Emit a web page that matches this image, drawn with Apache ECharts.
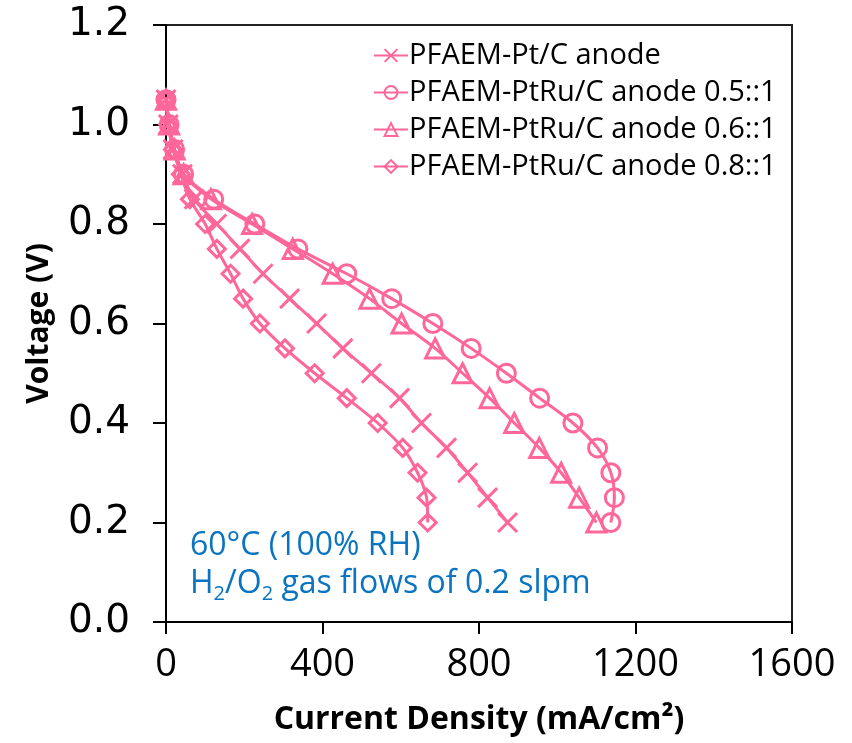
<!DOCTYPE html>
<html>
<head>
<meta charset="utf-8">
<script src="https://cdn.jsdelivr.net/npm/echarts@6/dist/echarts.min.js"></script>
<style>
html,body{margin:0;padding:0;background:#fff;}
#chart{width:852px;height:743px;}
</style>
</head>
<body>
<div id="chart"></div>
<script>
// Voltage levels (V) shared by all series
const voltage = [1.05, 1.0, 0.95, 0.9, 0.85, 0.8, 0.75, 0.7, 0.65, 0.6, 0.55, 0.5, 0.45, 0.4, 0.35, 0.3, 0.25, 0.2];
// Current density (mA/cm2) for each series
const currPtC    = [0, 6, 18, 42, 72, 130, 189, 248, 316, 385, 452, 525, 597, 653, 717, 771, 822, 873];
const currPtRu05 = [0, 8, 22, 45, 122, 227, 337, 462, 577, 682, 780, 870, 955, 1040, 1103, 1137, 1146, 1137];
const currPtRu06 = [0, 8, 22, 45, 115, 220, 324, 426, 520, 602, 688, 758, 827, 890, 954, 1010, 1056, 1100];
const currPtRu08 = [0, 6, 18, 38, 61, 100, 130, 165, 197, 240, 304, 380, 462, 541, 605, 643, 666, 669];
const seriesNames = ['PFAEM-Pt/C anode', 'PFAEM-PtRu/C anode 0.5::1', 'PFAEM-PtRu/C anode 0.6::1', 'PFAEM-PtRu/C anode 0.8::1'];
const xTicks = [0, 400, 800, 1200, 1600];
const yTicks = [0.0, 0.2, 0.4, 0.6, 0.8, 1.0, 1.2];

const pink = '#FF6699';
const zip = (xs) => xs.map((x, i) => [x, voltage[i]]);

function mkSeries(name, xs, symbol, size) {
  return {
    type: 'line', name: name, data: zip(xs),
    symbol: symbol, symbolSize: size, showSymbol: true, smooth: 0.3,
    lineStyle: { color: pink, width: 3 },
    itemStyle: { color: 'rgba(255,255,255,0)', borderColor: pink, borderWidth: 3 },
    emphasis: { disabled: true },
    animation: false
  };
}

const chart = echarts.init(document.getElementById('chart'), null, { renderer: 'canvas' });
const option = {
  backgroundColor: '#fff',
  animation: false,
  grid: { left: 166, right: 60, top: 25, bottom: 121, show: true, borderColor: '#222', borderWidth: 2, backgroundColor: 'transparent' },
  xAxis: {
    type: 'value', min: xTicks[0], max: xTicks[xTicks.length - 1], interval: 400,
    name: 'Current Density (mA/cm²)', nameLocation: 'middle', nameGap: 82,
    nameTextStyle: { fontFamily: 'Open Sans', fontWeight: 'bold', fontSize: 32, color: '#000' },
    axisLine: { show: true, onZero: false, lineStyle: { color: '#000', width: 2 } },
    axisTick: { show: true, inside: false, length: 12, lineStyle: { color: '#000', width: 2 } },
    axisLabel: { fontFamily: 'Open Sans', fontSize: 38, color: '#000', margin: 24, formatter: (v) => String(v) },
    splitLine: { show: false }
  },
  yAxis: {
    type: 'value', min: yTicks[0], max: yTicks[yTicks.length - 1], interval: 0.2,
    name: 'Voltage (V)', nameLocation: 'middle', nameGap: 112, nameRotate: 90,
    nameTextStyle: { fontFamily: 'Open Sans', fontWeight: 'bold', fontSize: 30, color: '#000' },
    axisLine: { show: true, onZero: false, lineStyle: { color: '#000', width: 2 } },
    axisTick: { show: true, inside: false, length: 13, lineStyle: { color: '#000', width: 2 } },
    axisLabel: { fontFamily: 'DejaVu Sans', fontSize: 39, color: '#000', margin: 36, formatter: (v) => v.toFixed(1) },
    splitLine: { show: false }
  },
  legend: {
    orient: 'vertical', left: 368, top: 36, itemWidth: 34, itemHeight: 16, itemGap: 8,
    textStyle: { fontFamily: 'Open Sans', fontSize: 29, color: '#000', padding: [0, 0, 0, -4] },
    data: seriesNames,
    selectedMode: false
  },
  series: [
    mkSeries(seriesNames[0], currPtC, 'path://M0,0L20,20M20,0L0,20', 19),
    mkSeries(seriesNames[1], currPtRu05, 'circle', 18),
    mkSeries(seriesNames[2], currPtRu06, 'triangle', 19),
    mkSeries(seriesNames[3], currPtRu08, 'diamond', 17)
  ],
  graphic: [
    { type: 'text', left: 190, top: 530, silent: true,
      style: { text: '60°C (100% RH)', fontFamily: 'Open Sans', fontSize: 32, fill: '#0A74C0' } },
    { type: 'text', left: 190, top: 568, silent: true,
      style: { text: '{a|H}{s|2}{a|/O}{s|2}{a| gas flows of 0.2 slpm}', fill: '#0A74C0',
        rich: {
          a: { fontFamily: 'Open Sans', fontSize: 32, lineHeight: 40, fill: '#0A74C0', color: '#0A74C0' },
          s: { fontFamily: 'Open Sans', fontSize: 20, lineHeight: 18, verticalAlign: 'bottom', fill: '#0A74C0', color: '#0A74C0' }
        } } }
  ]
};
chart.setOption(option);
</script>
</body>
</html>
